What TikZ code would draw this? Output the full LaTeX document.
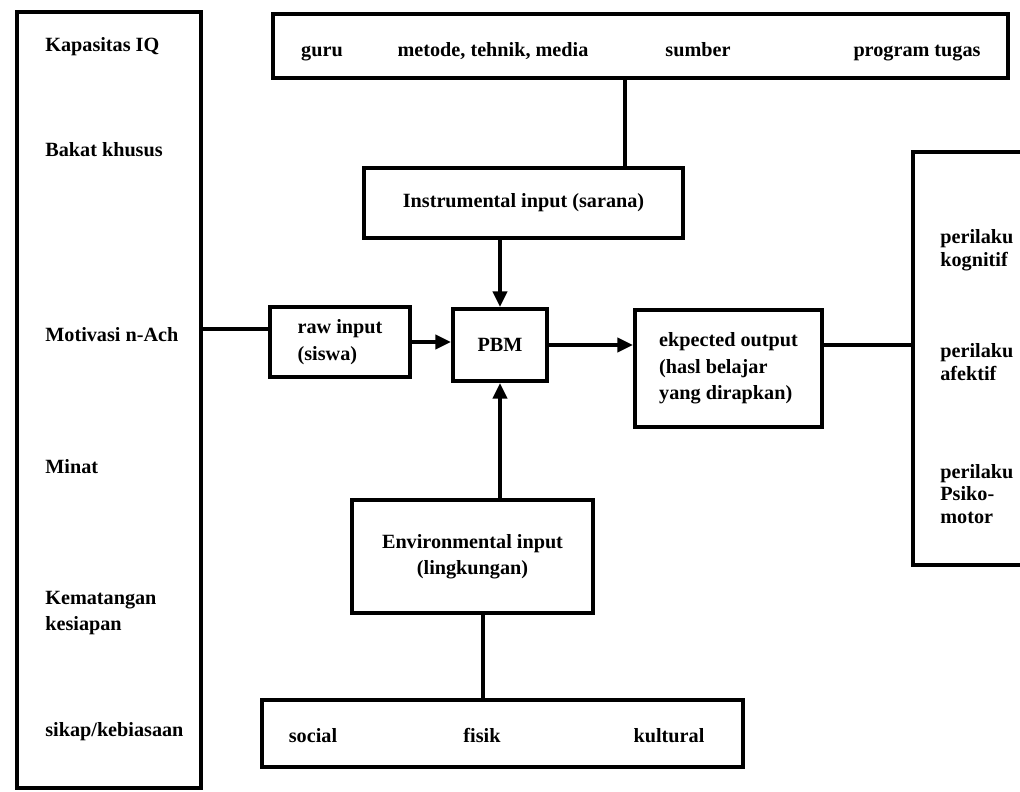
\documentclass[tikz,border=0pt]{standalone}
\usepackage{fontspec}
\setmainfont{Liberation Serif}
\usetikzlibrary{arrows.meta}

\begin{document}
\begin{tikzpicture}[x=0.02cm,y=-0.02cm,
	every node/.style={font=\bfseries\fontsize{11.5}{15}\selectfont},
	box/.style={draw=black,line width=2.2pt,inner sep=0pt,align=center},
	item/.style={anchor=west,align=left,inner sep=0pt},
	word/.style={anchor=base,inner sep=0pt},
	conn/.style={line width=2.2pt},
	arr/.style={line width=2.2pt,-{Triangle[length=9pt,width=8pt]}}]
		\useasboundingbox (0,0) rectangle (1020,791);

		\node[box,minimum width=3.68cm,minimum height=15.52cm] (left) at (109,400){};
		\node[box,minimum width=14.7cm,minimum height=1.28cm] (top) at (640.5,46){};
		\node[box,minimum width=6.38cm,minimum height=1.4cm] (instr) at (523.5,203){Instrumental input (sarana)};
		\node[box,minimum width=2.8cm,minimum height=1.4cm,align=left] (raw) at (340,342){raw input\\(siswa)};
		\node[box,minimum width=1.88cm,minimum height=1.44cm] (pbm) at (500,345){PBM};
		\node[box,minimum width=3.74cm,minimum height=2.34cm,align=left] (exp) at (728.5,368.5){ekpected output\\(hasl belajar\\yang dirapkan)};
		\node[box,minimum width=2.54cm,minimum height=8.26cm] (right) at (976.5,358.5){};
		\node[box,minimum width=4.82cm,minimum height=2.26cm] (env) at (472.5,556.5){Environmental input\\(lingkungan)};
		\node[box,minimum width=9.62cm,minimum height=1.34cm] (bot) at (502.5,733.5){};

		\node[item] (iq) at (45,47){Kapasitas IQ};
		\node[item] (bakat) at (45,150){Bakat khusus};
		\node[item] (motivasi) at (45,335){Motivasi n-Ach};
		\node[item] (minat) at (45,467){Minat};
		\node[item] (matang) at (45,613){Kematangan\\kesiapan};
		\node[item] (sikap) at (45,732){sikap/kebiasaan};

		\node[word] (guru) at (322,56){guru};
		\node[word] (metode) at (493,56){metode, tehnik, media};
		\node[word] (sumber) at (698,56){sumber};
		\node[word] (tugas) at (917,56){program tugas};

		\node[item,font=\bfseries\fontsize{11.5}{13}\selectfont] (kognitif) at (940,250){perilaku\\kognitif};
		\node[item,font=\bfseries\fontsize{11.5}{13}\selectfont] (afektif) at (940,362){perilaku\\afektif};
		\node[item,font=\bfseries\fontsize{11.5}{13}\selectfont] (psiko) at (940,494){perilaku\\Psiko-\\motor};

		\node[word] (social) at (313,742){social};
		\node[word] (fisik) at (482,742){fisik};
		\node[word] (kultural) at (669,742){kultural};

		\draw[conn] (instr.20) -- (instr.20 |- top.south);
		\draw[arr] (instr.south -| pbm.north) -- (pbm.north);
		\draw[conn] (raw.170 -| left.east) -- (raw.170);
		\draw[arr] (raw.east) -- (raw.east -| pbm.west);
		\draw[arr] (pbm.east) -- (pbm.east -| exp.west);
		\draw[conn] (exp.east |- pbm.east) -- (right.west |- pbm.east);
		\draw[arr] (env.north -| pbm.south) -- (pbm.south);
		\draw[conn] (env.-80) -- (env.-80 |- bot.north);

	\end{tikzpicture}
\end{document}
